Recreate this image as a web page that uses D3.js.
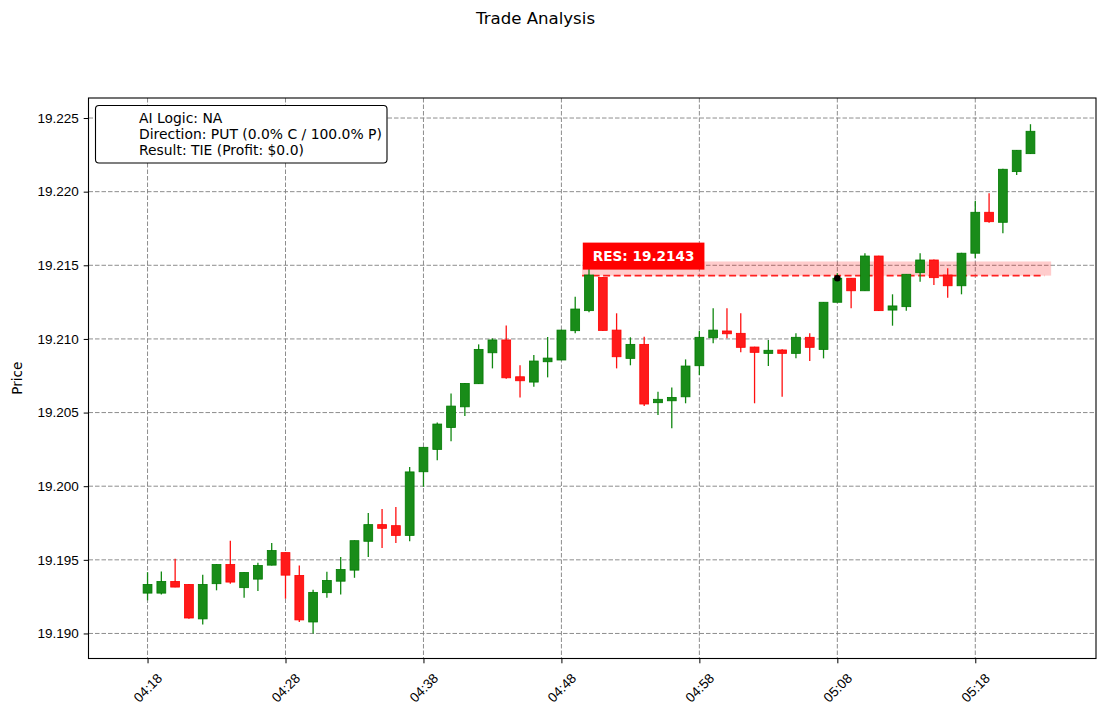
<!DOCTYPE html>
<html>
<head>
<meta charset="utf-8">
<script src="https://cdn.jsdelivr.net/npm/d3@7"></script>
<style>
  html, body { margin: 0; padding: 0; background: #fff; }
  svg { display: block; font-family: "DejaVu Sans", sans-serif; }
</style>
</head>
<body>
<svg id="chart" width="1105" height="716"></svg>
<script>
// ---- data ----
const times = ["04:18","04:19","04:20","04:21","04:22","04:23","04:24","04:25","04:26","04:27",
  "04:28","04:29","04:30","04:31","04:32","04:33","04:34","04:35","04:36","04:37",
  "04:38","04:39","04:40","04:41","04:42","04:43","04:44","04:45","04:46","04:47",
  "04:48","04:49","04:50","04:51","04:52","04:53","04:54","04:55","04:56","04:57",
  "04:58","04:59","05:00","05:01","05:02","05:03","05:04","05:05","05:06","05:07",
  "05:08","05:09","05:10","05:11","05:12","05:13","05:14","05:15","05:16","05:17",
  "05:18","05:19","05:20","05:21","05:22"];
const opens = [19.19274,19.19274,19.19353,19.19333,19.19099,19.19338,19.19468,19.19311,19.19369,19.19464,
  19.19549,19.19394,19.19078,19.19277,19.19355,19.19430,19.19626,19.19739,19.19732,19.19666,
  19.20098,19.20250,19.20399,19.20539,19.20696,19.20906,19.20993,19.20743,19.20707,19.20845,
  19.20857,19.21056,19.21192,19.21418,19.21060,19.20868,19.20963,19.20567,19.20580,19.20607,
  19.20818,19.21008,19.21054,19.21038,19.20945,19.20902,19.20925,19.20902,19.21011,19.20929,
  19.21249,19.21412,19.21327,19.21563,19.21196,19.21219,19.21450,19.21536,19.21434,19.21361,
  19.21582,19.21860,19.21792,19.22136,19.22258];
const highs = [19.19416,19.19421,19.19507,19.19336,19.19399,19.19470,19.19630,19.19416,19.19480,19.19615,
  19.19551,19.19461,19.19297,19.19419,19.19520,19.19632,19.19818,19.19845,19.19858,19.20130,
  19.20266,19.20433,19.20630,19.20700,19.20963,19.21004,19.21092,19.20821,19.20891,19.21013,
  19.21062,19.21287,19.21482,19.21420,19.21174,19.21011,19.21015,19.20641,19.20671,19.20861,
  19.21056,19.21208,19.21208,19.21174,19.20947,19.20993,19.20930,19.21038,19.21038,19.21250,
  19.21446,19.21414,19.21582,19.21565,19.21303,19.21440,19.21582,19.21540,19.21480,19.21585,
  19.21939,19.21989,19.22155,19.22283,19.22458];
const lows = [19.19225,19.19264,19.19313,19.19100,19.19061,19.19293,19.19338,19.19243,19.19288,19.19462,
  19.19236,19.19078,19.19000,19.19243,19.19264,19.19378,19.19520,19.19581,19.19615,19.19626,
  19.19996,19.20177,19.20306,19.20476,19.20694,19.20800,19.20730,19.20603,19.20675,19.20739,
  19.20855,19.21038,19.21181,19.21055,19.20800,19.20821,19.20544,19.20483,19.20393,19.20563,
  19.20755,19.20970,19.21004,19.20909,19.20563,19.20816,19.20607,19.20868,19.20850,19.20868,
  19.21249,19.21208,19.21325,19.21190,19.21090,19.21192,19.21389,19.21366,19.21280,19.21303,
  19.21548,19.21789,19.21717,19.22113,19.22256];
const closes = [19.19333,19.19353,19.19315,19.19105,19.19333,19.19468,19.19349,19.19414,19.19461,19.19563,
  19.19396,19.19092,19.19279,19.19360,19.19434,19.19630,19.19739,19.19714,19.19666,19.20097,
  19.20264,19.20422,19.20544,19.20698,19.20929,19.20993,19.20736,19.20716,19.20850,19.20870,
  19.21060,19.21203,19.21434,19.21058,19.20879,19.20963,19.20558,19.20590,19.20603,19.20816,
  19.21011,19.21060,19.21035,19.20943,19.20909,19.20923,19.20902,19.21011,19.20943,19.21249,
  19.21412,19.21327,19.21563,19.21192,19.21224,19.21439,19.21536,19.21416,19.21361,19.21582,
  19.21860,19.21796,19.22152,19.22281,19.22410];

const xTickLabels = ["04:18","04:28","04:38","04:48","04:58","05:08","05:18"];
const yTickValues = [19.190,19.195,19.200,19.205,19.210,19.215,19.220,19.225];

const resistanceLevel = 19.2143;
const resistanceBandTop = 19.21526;
const resistanceStart = "04:49:30";
const resistanceLineEnd = "05:23:00";
const resistanceBandEnd = "05:23:30";
const entryTime = "05:08";
const entryPrice = 19.21412;

const legendLines = ["AI Logic: NA", "Direction: PUT (0.0% C / 100.0% P)", "Result: TIE (Profit: $0.0)"];
const titleText = "Trade Analysis";
const yLabelText = "Price";

// ---- layout ----
const W = 1105, H = 716;
const plot = { left: 88.5, right: 1096, top: 98, bottom: 658.5 };
const parseT = d3.timeParse("%H:%M");
const parseTS = d3.timeParse("%H:%M:%S");
const MIN = 60000;

const candles = times.map((t, i) => ({ t: parseT(t), o: opens[i], h: highs[i], l: lows[i], c: closes[i] }));
const t0 = candles[0].t;

const x = d3.scaleTime()
  .domain([new Date(+t0 - 4.28 * MIN), new Date(+t0 + 68.75 * MIN)])
  .range([plot.left, plot.right]);
const y = d3.scaleLinear()
  .domain([19.18830, 19.22636])
  .range([plot.bottom, plot.top]);

const svg = d3.select("#chart");
svg.append("rect").attr("width", W).attr("height", H).attr("fill", "#fff");

// grid
const gGrid = svg.append("g");
xTickLabels.forEach(s => {
  gGrid.append("line")
    .attr("x1", x(parseT(s))).attr("x2", x(parseT(s)))
    .attr("y1", plot.top).attr("y2", plot.bottom)
    .attr("stroke", "#808080").attr("stroke-width", 0.9).attr("stroke-dasharray", "4.5,2");
});
yTickValues.forEach(v => {
  gGrid.append("line")
    .attr("x1", plot.left).attr("x2", plot.right)
    .attr("y1", y(v)).attr("y2", y(v))
    .attr("stroke", "#808080").attr("stroke-width", 0.9).attr("stroke-dasharray", "4.5,2");
});

// resistance band & line
svg.append("rect")
  .attr("x", x(parseTS(resistanceStart)))
  .attr("width", x(parseTS(resistanceBandEnd)) - x(parseTS(resistanceStart)))
  .attr("y", y(resistanceBandTop))
  .attr("height", y(resistanceLevel) - y(resistanceBandTop))
  .attr("fill", "rgba(255,0,0,0.2)");
svg.append("line")
  .attr("x1", x(parseTS(resistanceStart))).attr("x2", x(parseTS(resistanceLineEnd)))
  .attr("y1", y(resistanceLevel)).attr("y2", y(resistanceLevel))
  .attr("stroke", "#ff2020").attr("stroke-width", 1.8).attr("stroke-dasharray", "7,3.5");

// candles
const pxPerMin = x(new Date(+t0 + MIN)) - x(t0);
const bw = pxPerMin * 0.64;
const gC = svg.append("g");
candles.forEach(d => {
  const up = d.c >= d.o;
  const edge = up ? "#007a00" : "#ff0000";
  const fill = up ? "#198c19" : "#ff1a1a";
  const cx = x(d.t);
  gC.append("line")
    .attr("x1", cx).attr("x2", cx)
    .attr("y1", y(d.h)).attr("y2", y(d.l))
    .attr("stroke", up ? "#118811" : "#ff1010").attr("stroke-width", 1.3);
  const top = y(Math.max(d.o, d.c)), bot = y(Math.min(d.o, d.c));
  gC.append("rect")
    .attr("x", cx - bw / 2).attr("width", bw)
    .attr("y", top).attr("height", Math.max(bot - top, 1))
    .attr("fill", fill).attr("stroke", edge).attr("stroke-width", 0.8);
});

// entry marker
svg.append("circle")
  .attr("cx", x(parseT(entryTime))).attr("cy", y(entryPrice))
  .attr("r", 3.3).attr("fill", "#000");

// RES label
const resX = x(parseTS(resistanceStart));
const resLbl = svg.append("g");
const resBox = resLbl.append("rect").attr("fill", "#ff0000");
const resTxt = resLbl.append("text")
  .attr("x", resX + 61.5).attr("y", y(resistanceLevel) - 19.5)
  .attr("text-anchor", "middle").attr("dominant-baseline", "central")
  .attr("font-size", 13.6).attr("font-weight", "bold").attr("fill", "#fff")
  .text("RES: " + resistanceLevel.toFixed(4));
const bb = resTxt.node().getBBox();
resBox.attr("x", bb.x - 10).attr("y", y(resistanceLevel) - 33)
  .attr("width", bb.width + 20).attr("height", 27);

// axes frame
svg.append("rect")
  .attr("x", plot.left).attr("y", plot.top)
  .attr("width", plot.right - plot.left).attr("height", plot.bottom - plot.top)
  .attr("fill", "none").attr("stroke", "#000").attr("stroke-width", 1.1);

// x axis
const xAxis = d3.axisBottom(x)
  .tickValues(xTickLabels.map(s => parseT(s)))
  .tickFormat(d3.timeFormat("%H:%M"))
  .tickSize(4.8).tickPadding(3);
const gx = svg.append("g").attr("transform", `translate(0,${plot.bottom})`).call(xAxis);
gx.select(".domain").remove();
gx.selectAll(".tick line").attr("stroke", "#000").attr("stroke-width", 1);
gx.selectAll(".tick text")
  .attr("font-size", 13.5).attr("fill", "#000")
  .attr("text-anchor", "middle").attr("dominant-baseline", "central")
  .attr("y", 0).attr("dy", 0)
  .attr("transform", "translate(0,29.5) rotate(-45)");

// y axis
const yAxis = d3.axisLeft(y)
  .tickValues(yTickValues)
  .tickFormat(d3.format(".3f"))
  .tickSize(4.8).tickPadding(5);
const gy = svg.append("g").attr("transform", `translate(${plot.left},0)`).call(yAxis);
gy.select(".domain").remove();
gy.selectAll(".tick line").attr("stroke", "#000").attr("stroke-width", 1);
gy.selectAll(".tick text").attr("font-size", 13.5).attr("fill", "#000");

// y label
svg.append("text")
  .attr("transform", `translate(17,${(plot.top + plot.bottom) / 2}) rotate(-90)`)
  .attr("text-anchor", "middle").attr("dominant-baseline", "central")
  .attr("font-size", 13.6).attr("fill", "#000")
  .text(yLabelText);

// title
svg.append("text")
  .attr("x", 535.5).attr("y", 18)
  .attr("text-anchor", "middle").attr("dominant-baseline", "central")
  .attr("font-size", 16.6).attr("fill", "#000")
  .text(titleText);

// legend
const lg = svg.append("g");
lg.append("rect")
  .attr("x", 95.5).attr("y", 105.5).attr("width", 291.5).attr("height", 57.5)
  .attr("rx", 3.5).attr("ry", 3.5)
  .attr("fill", "#fff").attr("stroke", "#000").attr("stroke-width", 1.1);
legendLines.forEach((s, i) => {
  lg.append("text")
    .attr("x", 139).attr("y", 118 + i * 16)
    .attr("dominant-baseline", "central")
    .attr("font-size", 13.9).attr("fill", "#000")
    .text(s);
});
</script>
</body>
</html>
